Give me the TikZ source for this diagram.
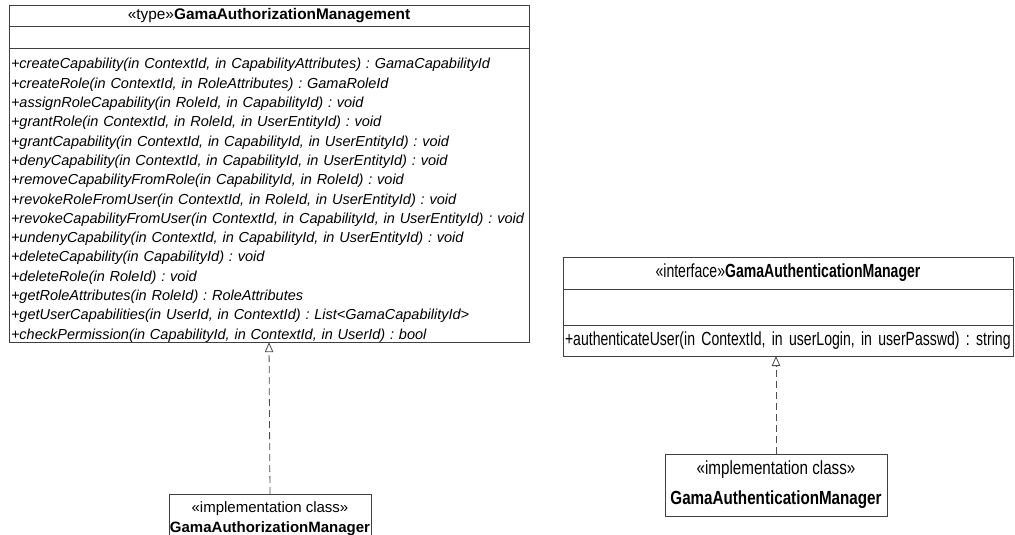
\documentclass[tikz,border=0pt]{standalone}
\usepackage{fontspec}
\setmainfont{Liberation Sans}
\newfontfamily\narrowfont{Liberation Sans}[FakeStretch=0.74]
\newfontfamily\implfont{Liberation Sans}[FakeStretch=0.80]
\usetikzlibrary{arrows.meta}
\frenchspacing
\begin{document}
\frenchspacing
\begin{tikzpicture}[x=1pt,y=-1pt,
  compart/.style={draw=black!75, line width=0.9pt, fill=white, inner sep=0pt, outer sep=0pt},
  opsfont/.style={font=\fontsize{14.5}{19.3}\selectfont\itshape},
  realize/.style={draw=black!70, line width=0.8pt, dash pattern=on 7pt off 4pt,
    -{Triangle[open, length=10pt, width=8.5pt, line width=0.8pt, sep=0pt]}},
]
\useasboundingbox (0,0) rectangle (1015,535);

% authorization management type
\node[compart, minimum width=520, minimum height=21, anchor=north west,
      font=\fontsize{15.4}{17}\selectfont] (authT) at (9,5)
  {«type»\textbf{GamaAuthorizationManagement}};
\node[compart, minimum width=520, minimum height=22, anchor=north] (authA) at (authT.south) {};
\node[compart, minimum width=520, minimum height=293, anchor=north,
      text width=516, align=left, opsfont] (authO) at (authA.south)
  {\rule{0pt}{21pt}+createCapability(in ContextId, in CapabilityAttributes) : GamaCapabilityId\\
   +createRole(in ContextId, in RoleAttributes) : GamaRoleId\\
   +assignRoleCapability(in RoleId, in CapabilityId) : void\\
   +grantRole(in ContextId, in RoleId, in UserEntityId) : void\\
   +grantCapability(in ContextId, in CapabilityId, in UserEntityId) : void\\
   +denyCapability(in ContextId, in CapabilityId, in UserEntityId) : void\\
   +removeCapabilityFromRole(in CapabilityId, in RoleId) : void\\
   +revokeRoleFromUser(in ContextId, in RoleId, in UserEntityId) : void\\
   +revokeCapabilityFromUser(in ContextId, in CapabilityId, in UserEntityId) : void\\
   +undenyCapability(in ContextId, in CapabilityId, in UserEntityId) : void\\
   +deleteCapability(in CapabilityId) : void\\
   +deleteRole(in RoleId) : void\\
   +getRoleAttributes(in RoleId) : RoleAttributes\\
   +getUserCapabilities(in UserId, in ContextId) : List<GamaCapabilityId>\\
   +checkPermission(in CapabilityId, in ContextId, in UserId) : bool};

% authorization implementation class
\node[compart, minimum width=202, minimum height=46, anchor=north, align=center,
      font=\fontsize{15}{20}\selectfont] (implL) at (270,494)
  {\rule{0pt}{14pt}«implementation class»\\\textbf{GamaAuthorizationManager}};

% authentication manager interface
\node[compart, minimum width=450, minimum height=32, anchor=north west,
      font=\narrowfont\fontsize{19}{20}\selectfont] (authnT) at (563,257)
  {«interface»\textbf{GamaAuthenticationManager}};
\node[compart, minimum width=450, minimum height=36, anchor=north] (authnA) at (authnT.south) {};
\node[compart, minimum width=450, minimum height=31, anchor=north,
      text width=446, align=left, font=\narrowfont\fontsize{19}{20}\selectfont] (authnO) at (authnA.south)
  {+authenticateUser(in ContextId, in userLogin, in userPasswd) : string};

% authentication implementation class
\node[compart, minimum width=222, minimum height=62, anchor=north, align=center,
      font=\implfont\fontsize{19}{30}\selectfont] (implR) at (776,454)
  {«implementation class»\\\textbf{GamaAuthenticationManager}};

% realization connectors
\draw[realize] (implL.north) -- (authO.south);
\draw[realize] (implR.north) -- (implR.north |- authnO.south);
\end{tikzpicture}
\end{document}
